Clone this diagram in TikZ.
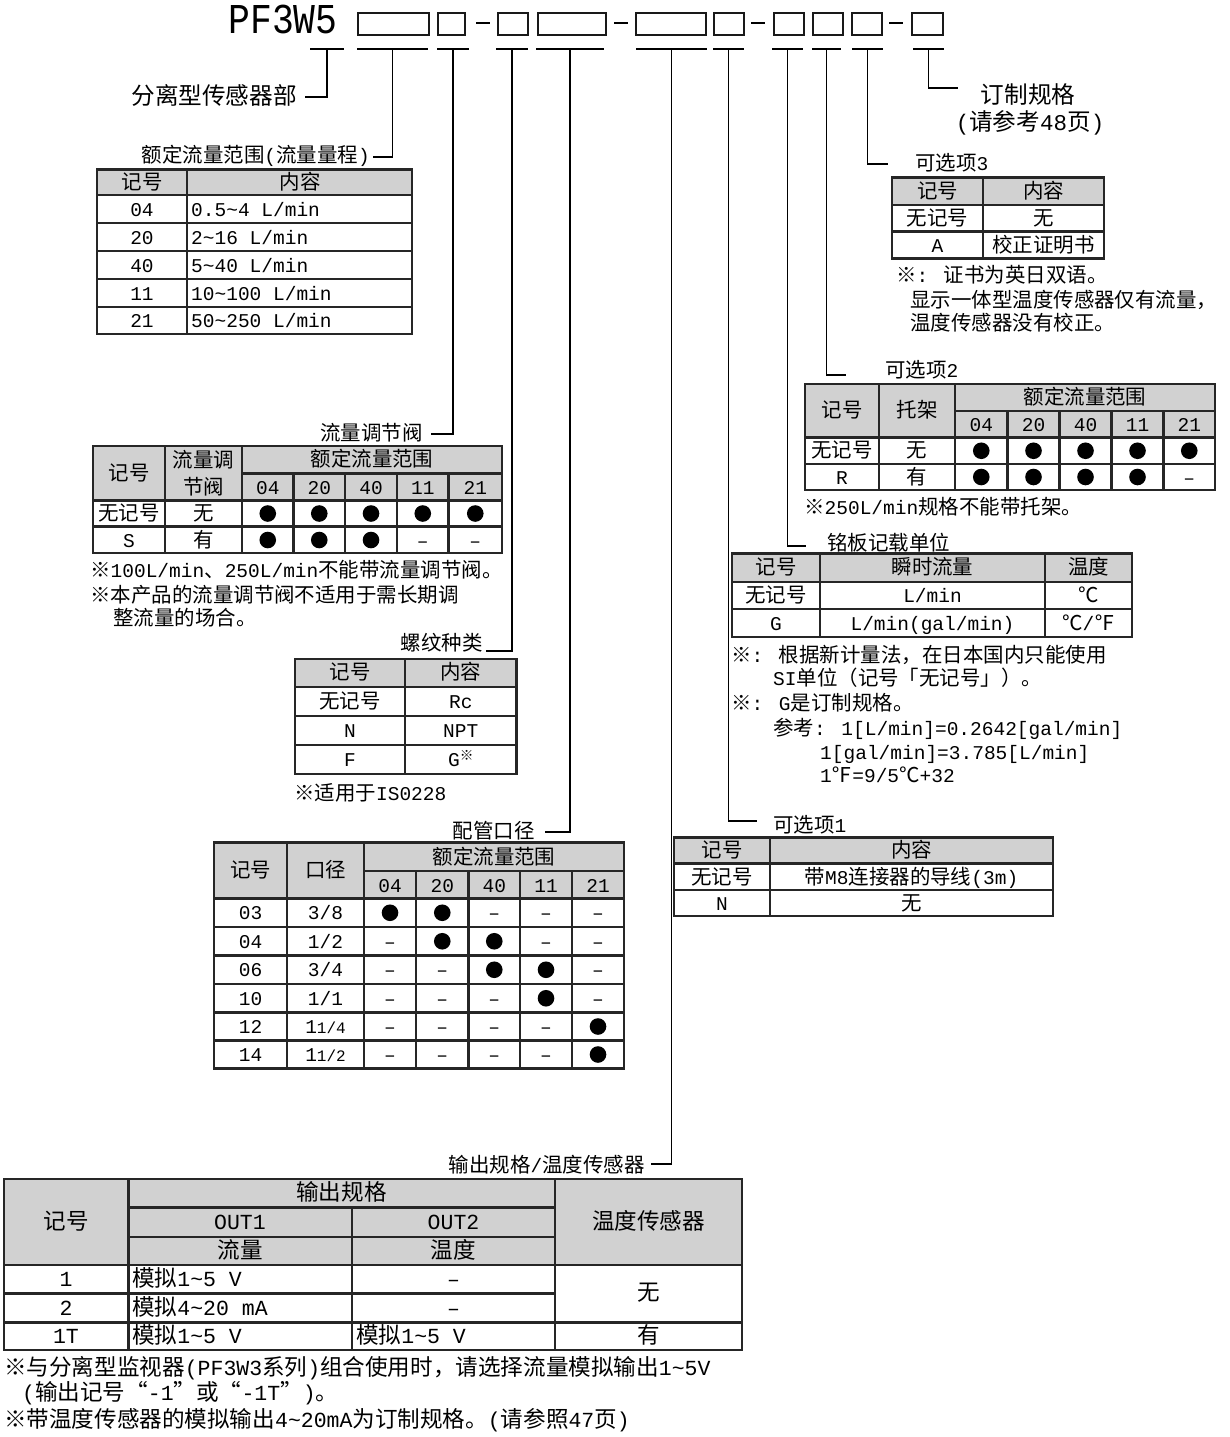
\documentclass[tikz,border=0pt]{standalone}
\usepackage{graphicx}
\usepackage{fontspec}
\setmainfont{Liberation Mono}
\newfontfamily\latf{Liberation Mono}
\newfontfamily\cjkf{Noto Sans CJK SC}[Scale=1.05]
\newcount\mycnt
\newXeTeXintercharclass\CJKcl
\mycnt="2E80 \loop \XeTeXcharclass\mycnt=\CJKcl \ifnum\mycnt<"9FFF \advance\mycnt by 1 \repeat
\mycnt="FF00 \loop \XeTeXcharclass\mycnt=\CJKcl \ifnum\mycnt<"FFEF \advance\mycnt by 1 \repeat
\mycnt="21 \loop \XeTeXcharclass\mycnt=0 \ifnum\mycnt<"7E \advance\mycnt by 1 \repeat
\XeTeXcharclass"203B=\CJKcl
\XeTeXcharclass"2103=\CJKcl
\XeTeXcharclass"2109=\CJKcl
\XeTeXcharclass"201C=\CJKcl
\XeTeXcharclass"201D=\CJKcl
\XeTeXcharclass"2013=0
\XeTeXinterchartoks 0 \CJKcl = {\cjkf}
\XeTeXinterchartoks 4095 \CJKcl = {\cjkf}
\XeTeXinterchartoks \CJKcl 0 = {\latf}
\XeTeXinterchartoks \CJKcl 4095 = {\latf}
\XeTeXinterchartokenstate=1
\newcommand\fa{\fontsize{19.5}{23}\selectfont}
\newcommand\fb{\fontsize{21.5}{25}\selectfont}
\newcommand\fc{\fontsize{22.5}{27}\selectfont}
\newcommand\tld{\symbol{126}}
\newcount\ndc
\newcommand\Ct[3]{\global\advance\ndc by 1 \node[tx,anchor=base] (t\the\ndc) at (#1,#2+7) {#3};}
\newcommand\Lt[3]{\global\advance\ndc by 1 \node[tx,anchor=base west] (t\the\ndc) at (#1,#2+7) {#3};}
\newcommand\Rt[3]{\global\advance\ndc by 1 \node[tx,anchor=base east] (t\the\ndc) at (#1,#2+7) {#3};}
\newcommand\Mk[3]{\ifnum#3=1 \fill (#1,#2) circle (8.3);\else\Ct{#1}{#2}{–}\fi}
\newcommand\Row[3]{\foreach \vv [count=\k from 0] in {#3} {\pgfmathsetmacro\xx{{#1}[\k]}\Mk{\xx}{#2}{\vv}}}
\begin{document}
\begin{tikzpicture}[x=1pt,y=-1pt,
 tb/.style={line width=2.1pt,draw=black!85},
 hd/.style={fill=black!18},
 cn/.style={line width=1.6pt,draw=black},
 bx/.style={line width=1.8pt,draw=black!90,inner sep=0pt,anchor=north west,minimum height=22pt},
 ul/.style={line width=2.6pt,draw=black},
 tx/.style={inner sep=0pt,font=\fa}]
\useasboundingbox[fill=white] (0,0) rectangle (1229,1437);
% ---------- model code ----------
\node[anchor=base,inner sep=0pt] (pf) at (283,34) {\raisebox{0pt}[28pt][0pt]{\fontsize{34}{34}\selectfont\scalebox{1.07}[1.25]{PF3W5}}};
\foreach \a/\b [count=\i] in {357/428,437/464,497/527,537/605,635/705,713/743,773/803,812/842,851/881,911/942}
  \node[bx,minimum width=\b-\a] (b\i) at (\a,12) {};
\foreach \a [count=\i] in {476,614,751,889} \draw[line width=1.5pt] (\a,23) -- (\a+14,23);
\foreach \a/\b [count=\i from 0] in {310/344,357/428,437/469,496/528,536/604,636/707,713/744,772/803,812/841,852/883,913/944}{
  \draw[ul] (\a,49) -- (\b,49);
  \coordinate (u\i) at ({(\a+\b)/2},49);}
\coordinate (e0) at (305,97);
\coordinate (e1) at (373,157);
\coordinate (e2) at (431,434);
\coordinate (e3) at (486,651);
\coordinate (e4) at (545,832);
\coordinate (e5) at (651,1164);
\coordinate (e6) at (757,821);
\coordinate (e7) at (806,546);
\coordinate (e8) at (846,375);
\coordinate (e9) at (888,164);
\coordinate (e10) at (958,88);
\foreach \i in {0,...,10} \draw[cn] (u\i) |- (e\i);
% ---------- labels ----------
\node[tx,font=\fc,anchor=base east] (l0) at (297,104) {分离型传感器部};
\node[tx,font=\fc,anchor=base] (l10a) at (1028,103) {订制规格};
\node[tx,font=\fc,anchor=base] (l10b) at (1030,130) {(请参考48页)};
\Rt{370}{155}{额定流量范围(流量量程)}
\Rt{423}{433}{流量调节阀}
\Rt{483}{643}{螺纹种类}
\Rt{535}{831}{配管口径}
\Rt{645}{1165}{输出规格/温度传感器}
\Lt{773}{825}{可选项1}
\Lt{827}{543}{铭板记载单位}
\Lt{885}{370}{可选项2}
\Lt{915}{163}{可选项3}
% ---------- table 1 ----------
\fill[hd] (97,169.5) rectangle (412,195);
\draw[tb] (97,169.5) rectangle (412,334);
\foreach \y in {195,223,251,279,307} \draw[tb] (97,\y) -- (412,\y);
\draw[tb] (187,169.5) -- (187,334);
\Ct{142}{182}{记号}\Ct{300}{182}{内容}
\Ct{142}{209}{04}\Lt{191}{209}{0.5\tld4 L/min}
\Ct{142}{237}{20}\Lt{191}{237}{2\tld16 L/min}
\Ct{142}{265}{40}\Lt{191}{265}{5\tld40 L/min}
\Ct{142}{293}{11}\Lt{191}{293}{10\tld100 L/min}
\Ct{142}{320.5}{21}\Lt{191}{320.5}{50\tld250 L/min}
% ---------- table 2 ----------
\fill[hd] (93,446) rectangle (502,500.5);
\draw[tb] (93,446) rectangle (502,553);
\draw[tb] (242,473.5) -- (502,473.5);
\foreach \y in {500.5,526.5} \draw[tb] (93,\y) -- (502,\y);
\foreach \x in {165,242} \draw[tb] (\x,446) -- (\x,553);
\foreach \x in {293.5,345,397,448.5} \draw[tb] (\x,473.5) -- (\x,553);
\Ct{129}{473}{记号}\Ct{203.5}{460}{流量调}\Ct{203.5}{487}{节阀}\Ct{372}{459.5}{额定流量范围}
\Ct{267.75}{487}{04}\Ct{319.25}{487}{20}\Ct{371}{487}{40}\Ct{422.75}{487}{11}\Ct{475.25}{487}{21}
\Ct{129}{513.5}{无记号}\Ct{203.5}{513.5}{无}
\Ct{129}{540}{S}\Ct{203.5}{540}{有}
\Row{267.75,319.25,371,422.75,475.25}{513.5}{1,1,1,1,1}
\Row{267.75,319.25,371,422.75,475.25}{540}{1,1,1,0,0}
\Lt{90}{570}{※100L/min、250L/min不能带流量调节阀。}
\Lt{90}{595}{※本产品的流量调节阀不适用于需长期调}
\Lt{113}{618}{整流量的场合。}
% ---------- table 3 ----------
\fill[hd] (295,659) rectangle (516.5,687);
\draw[tb] (295,659) rectangle (516.5,774);
\foreach \y in {687,716,745} \draw[tb] (295,\y) -- (516.5,\y);
\draw[tb] (405,659) -- (405,774);
\Ct{350}{672.5}{记号}\Ct{460.75}{672.5}{内容}
\Ct{350}{701.5}{无记号}\Ct{460.75}{701.5}{Rc}
\Ct{350}{730.5}{N}\Ct{460.75}{730.5}{NPT}
\Ct{350}{759.5}{F}\Ct{460.75}{759.5}{G\raisebox{6pt}{\fontsize{13}{13}\selectfont ※}}
\Lt{294}{793}{※适用于IS0228}
% ---------- table 4 ----------
\fill[hd] (214,842.5) rectangle (624,898.5);
\draw[tb] (214,842.5) rectangle (624,1068.5);
\draw[tb] (364,871) -- (624,871);
\foreach \y in {898.5,927,955.5,984,1012.5,1040.5} \draw[tb] (214,\y) -- (624,\y);
\foreach \x in {287,364} \draw[tb] (\x,842.5) -- (\x,1068.5);
\foreach \x in {416,468.5,520,572} \draw[tb] (\x,871) -- (\x,1068.5);
\Ct{250.5}{870.5}{记号}\Ct{325.5}{870.5}{口径}\Ct{494}{857}{额定流量范围}
\Ct{390}{885}{04}\Ct{442.25}{885}{20}\Ct{494.25}{885}{40}\Ct{546}{885}{11}\Ct{598}{885}{21}
\Ct{250.5}{912.75}{03}\Ct{325.5}{912.75}{3/8}
\Row{390,442.25,494.25,546,598}{912.75}{1,1,0,0,0}
\Ct{250.5}{941.25}{04}\Ct{325.5}{941.25}{1/2}
\Row{390,442.25,494.25,546,598}{941.25}{0,1,1,0,0}
\Ct{250.5}{969.75}{06}\Ct{325.5}{969.75}{3/4}
\Row{390,442.25,494.25,546,598}{969.75}{0,0,1,1,0}
\Ct{250.5}{998.25}{10}\Ct{325.5}{998.25}{1/1}
\Row{390,442.25,494.25,546,598}{998.25}{0,0,0,1,0}
\Ct{250.5}{1026.5}{12}\Ct{325.5}{1026.5}{1{\fontsize{16}{16}\selectfont 1/4}}
\Row{390,442.25,494.25,546,598}{1026.5}{0,0,0,0,1}
\Ct{250.5}{1054.5}{14}\Ct{325.5}{1054.5}{1{\fontsize{16}{16}\selectfont 1/2}}
\Row{390,442.25,494.25,546,598}{1054.5}{0,0,0,0,1}
% ---------- table 5 (option 3) ----------
\fill[hd] (892,177.5) rectangle (1104,205);
\draw[tb] (892,177.5) rectangle (1104,258.5);
\foreach \y in {205,231.5} \draw[tb] (892,\y) -- (1104,\y);
\draw[tb] (983,177.5) -- (983,258.5);
\Ct{937.5}{191}{记号}\Ct{1043.5}{191}{内容}
\Ct{937.5}{218}{无记号}\Ct{1043.5}{218}{无}
\Ct{937.5}{245}{A}\Ct{1043.5}{245}{校正证明书}
\Lt{896}{275}{※: 证书为英日双语。}
\Lt{910}{300}{显示一体型温度传感器仅有流量，}
\Lt{910}{323}{温度传感器没有校正。}
% ---------- table 6 (option 2) ----------
\fill[hd] (805,384) rectangle (1215,437.5);
\draw[tb] (805,384) rectangle (1215,490);
\draw[tb] (955,411) -- (1215,411);
\foreach \y in {437.5,464} \draw[tb] (805,\y) -- (1215,\y);
\foreach \x in {879,955} \draw[tb] (\x,384) -- (\x,490);
\foreach \x in {1007.5,1059.5,1111.5,1163.5} \draw[tb] (\x,411) -- (\x,490);
\Ct{842}{410.75}{记号}\Ct{917}{410.75}{托架}\Ct{1085}{397.5}{额定流量范围}
\Ct{981.25}{424}{04}\Ct{1033.5}{424}{20}\Ct{1085.5}{424}{40}\Ct{1137.5}{424}{11}\Ct{1189.25}{424}{21}
\Ct{842}{450.75}{无记号}\Ct{917}{450.75}{无}
\Ct{842}{477}{R}\Ct{917}{477}{有}
\Row{981.25,1033.5,1085.5,1137.5,1189.25}{450.75}{1,1,1,1,1}
\Row{981.25,1033.5,1085.5,1137.5,1189.25}{477}{1,1,1,1,0}
\Lt{804}{507}{※250L/min规格不能带托架。}
% ---------- table 7 (nameplate units) ----------
\fill[hd] (732,553.5) rectangle (1132,582);
\draw[tb] (732,553.5) rectangle (1132,637);
\foreach \y in {582,609} \draw[tb] (732,\y) -- (1132,\y);
\foreach \x in {820,1045} \draw[tb] (\x,553.5) -- (\x,637);
\Ct{776}{567.75}{记号}\Ct{932.5}{567.75}{瞬时流量}\Ct{1088.5}{567.75}{温度}
\Ct{776}{595.5}{无记号}\Ct{932.5}{595.5}{L/min}\Ct{1088.5}{595.5}{℃}
\Ct{776}{623}{G}\Ct{932.5}{623}{L/min(gal/min)}\Ct{1088.5}{623}{℃/℉}
\Lt{731}{655}{※: 根据新计量法，在日本国内只能使用}
\Lt{773}{678}{SI单位（记号「无记号」）。}
\Lt{731}{703}{※: G是订制规格。}
\Lt{773}{728}{参考: 1[L/min]=0.2642[gal/min]}
\Lt{820}{752}{1[gal/min]=3.785[L/min]}
\Lt{820}{775}{1℉=9/5℃+32}
% ---------- table 8 (option 1) ----------
\fill[hd] (674,837.5) rectangle (1053,863.5);
\draw[tb] (674,837.5) rectangle (1053,916);
\foreach \y in {863.5,890} \draw[tb] (674,\y) -- (1053,\y);
\draw[tb] (770,837.5) -- (770,916);
\Ct{722}{850.5}{记号}\Ct{911.5}{850.5}{内容}
\Ct{722}{877}{无记号}\Ct{911.5}{877}{带M8连接器的导线(3m)}
\Ct{722}{903}{N}\Ct{911.5}{903}{无}
% ---------- table 9 (output) ----------
\begin{scope}[tx/.append style={font=\fb}]
\fill[hd] (4,1179) rectangle (742,1265);
\draw[tb] (4,1179) rectangle (742,1350);
\foreach \x in {128.5,555} \draw[tb] (\x,1179) -- (\x,1350);
\draw[tb] (352,1207.5) -- (352,1350);
\foreach \y in {1207.5,1237} \draw[tb] (128.5,\y) -- (555,\y);
\draw[tb] (4,1265) -- (742,1265);
\draw[tb] (4,1293.5) -- (555,1293.5);
\draw[tb] (4,1322.5) -- (742,1322.5);
\Ct{66}{1222}{记号}\Ct{341.5}{1193}{输出规格}\Ct{648.5}{1222}{温度传感器}
\Ct{240}{1222}{OUT1}\Ct{453.5}{1222}{OUT2}
\Ct{240}{1251}{流量}\Ct{453.5}{1251}{温度}
\Ct{66}{1279.25}{1}\Lt{132}{1279.25}{模拟1\tld5 V}\Ct{453.5}{1279.25}{–}
\Ct{66}{1308}{2}\Lt{132}{1308}{模拟4\tld20 mA}\Ct{453.5}{1308}{–}
\Ct{648.5}{1293.5}{无}
\Ct{66}{1336.25}{1T}\Lt{132}{1336.25}{模拟1\tld5 V}\Lt{356}{1336.25}{模拟1\tld5 V}\Ct{648.5}{1336.25}{有}
\Lt{4}{1368}{※与分离型监视器(PF3W3系列)组合使用时，请选择流量模拟输出1\tld5V}
\Lt{22}{1393}{(输出记号“-1”或“-1T”)。}
\Lt{4}{1420}{※带温度传感器的模拟输出4\tld20mA为订制规格。(请参照47页)}
\end{scope}
\end{tikzpicture}
\end{document}
